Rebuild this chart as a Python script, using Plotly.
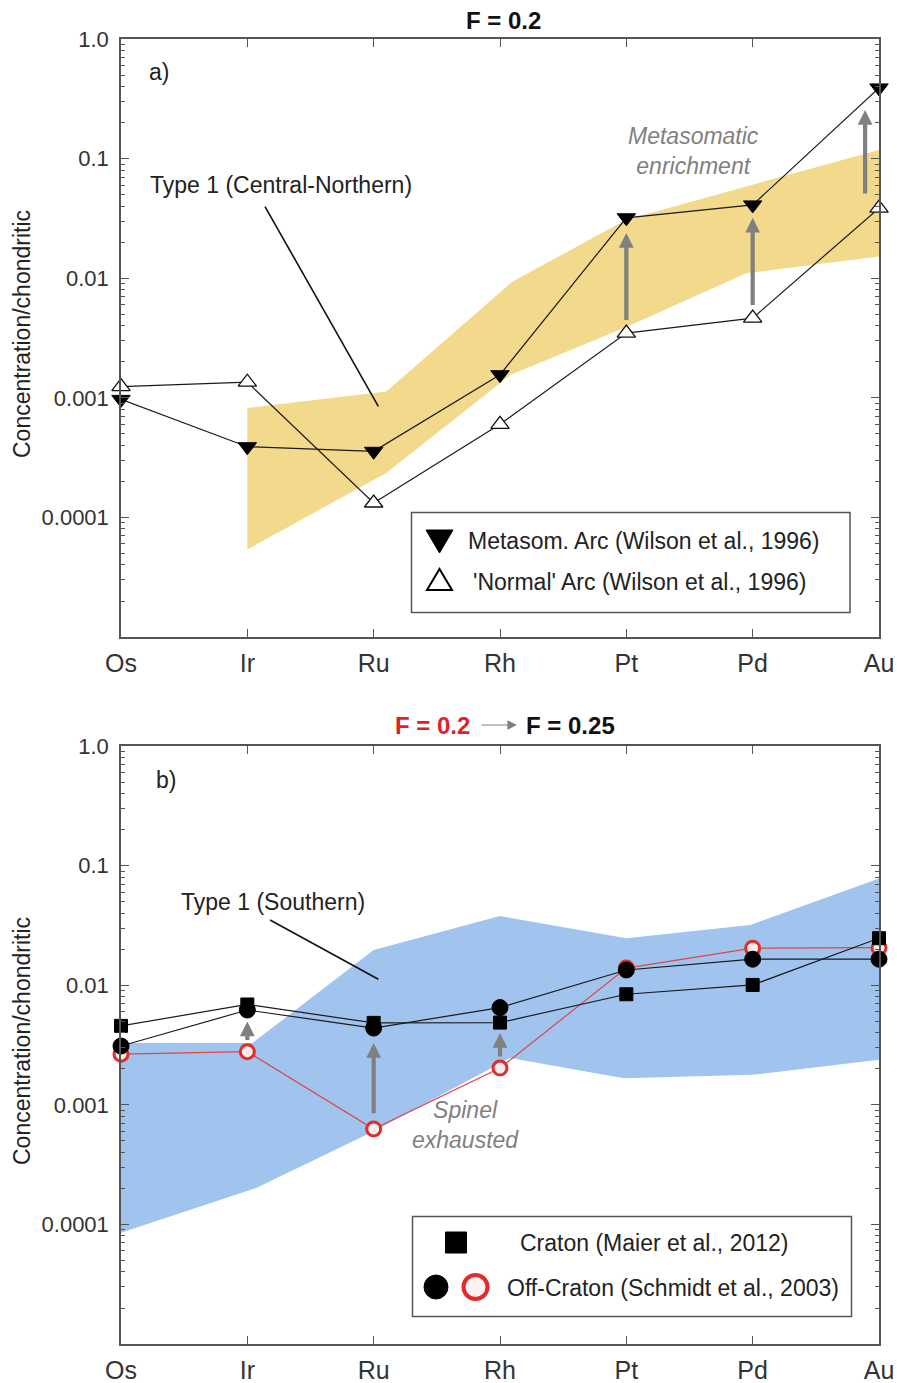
import math
import plotly.graph_objects as go

W, H = 897, 1383

# ---------------- data ----------------
elements = ["Os", "Ir", "Ru", "Rh", "Pt", "Pd", "Au"]
xpos = list(range(len(elements)))

# panel a
metasom_arc = [0.00097, 0.00039, 0.000357, 0.00156, 0.032, 0.041, 0.39]
normal_arc = [0.00124, 0.00135, 0.000132, 0.0006, 0.00348, 0.00464, 0.0385]

band_a_x_upper = [1, 2.1, 3.1, 4.0, 5.05, 6]
band_a_upper = [0.00082, 0.00113, 0.0094, 0.0308, 0.0626, 0.118]
band_a_x_lower = [1, 2.1, 3.08, 4.0, 4.95, 6]
band_a_lower = [5.4e-5, 0.000235, 0.00155, 0.0039, 0.011, 0.0152]

enrich_a_x = [4, 5, 5.89]
enrich_a_from = [0.00435, 0.0058, 0.0497]
enrich_a_to = [0.0239, 0.032, 0.255]

type1_a_x = [1.14, 2.037]
type1_a_y = [0.0397, 0.000848]

# panel b
craton = [0.00457, 0.00690, 0.00484, 0.00487, 0.0084, 0.01005, 0.0247]
off_craton_025 = [0.0031, 0.0062, 0.00438, 0.00650, 0.0134, 0.0165, 0.0165]
off_craton_02 = [0.00265, 0.00278, 0.000628, 0.00203, 0.0139, 0.0204, 0.0206]

band_b_x_upper = [0, 1.04, 2.0, 3.0, 4.0, 4.98, 6]
band_b_upper = [0.00328, 0.00328, 0.0197, 0.0379, 0.0247, 0.0319, 0.078]
band_b_x_lower = [0, 1.07, 2.0, 3.08, 3.98, 5.0, 6]
band_b_lower = [8.5e-5, 0.000202, 0.0006, 0.00246, 0.00167, 0.00178, 0.00238]

enrich_b_x = [1, 2, 3]
enrich_b_from = [0.00338, 0.000826, 0.00246]
enrich_b_to = [0.00497, 0.00328, 0.00398]

type1_b_x = [1.18, 2.037]
type1_b_y = [0.0351, 0.0112]

ytick_vals = [1e-4, 1e-3, 1e-2, 1e-1, 1.0]
ytick_text = ["0.0001", "0.001", "0.01", "0.1", "1.0"]

# ---------------- style ----------------
FONT = "Liberation Sans, Arial, Helvetica, sans-serif"
TXT = "#222222"
AXC = "#555555"
YELLOW = "#F2D98C"
BLUE = "#A0C4ED"
RED = "#E32B2B"
GRAY = "#808080"


def px(x):
    return x / W


def py(y):
    return 1 - y / H


fig = go.Figure()


def band(xu, yu, xl, yl, color, xa, ya):
    fig.add_trace(go.Scatter(
        x=list(xu) + list(reversed(xl)), y=list(yu) + list(reversed(yl)),
        fill="toself", fillcolor=color, mode="lines", line=dict(width=0),
        hoverinfo="skip", showlegend=False, xaxis=xa, yaxis=ya))


def series(y, xa, ya, symbol, size, fill, lcolor, mline, linecolor="#1a1a1a", linew=1.2):
    fig.add_trace(go.Scatter(
        x=xpos, y=y, mode="lines+markers", cliponaxis=False,
        line=dict(color=linecolor, width=linew),
        marker=dict(symbol=symbol, size=size, color=fill,
                    line=dict(color=lcolor, width=mline)),
        showlegend=False, xaxis=xa, yaxis=ya))


# panel a
band(band_a_x_upper, band_a_upper, band_a_x_lower, band_a_lower, YELLOW, "x", "y")
fig.add_trace(go.Scatter(x=type1_a_x, y=type1_a_y, mode="lines",
                         line=dict(color="#111111", width=1.6), showlegend=False,
                         xaxis="x", yaxis="y"))
series(normal_arc, "x", "y", "triangle-up", 16, "white", "#111111", 1.3)
series(metasom_arc, "x", "y", "triangle-down", 16, "black", "black", 1)

# panel b
band(band_b_x_upper, band_b_upper, band_b_x_lower, band_b_lower, BLUE, "x2", "y2")
fig.add_trace(go.Scatter(x=type1_b_x, y=type1_b_y, mode="lines",
                         line=dict(color="#111111", width=1.6), showlegend=False,
                         xaxis="x2", yaxis="y2"))
series(off_craton_02, "x2", "y2", "circle", 14, "#F3EEEE", RED, 3,
       linecolor="#E04545", linew=1.2)
series(craton, "x2", "y2", "square", 13, "black", "black", 1)
series(off_craton_025, "x2", "y2", "circle", 16, "black", "black", 1)

annotations = []

# enrichment arrows
for xs, y0s, y1s, xr, yr in [(enrich_a_x, enrich_a_from, enrich_a_to, "x", "y"),
                             (enrich_b_x, enrich_b_from, enrich_b_to, "x2", "y2")]:
    for xv, y0, y1 in zip(xs, y0s, y1s):
        annotations.append(dict(
            x=xv, y=math.log10(y1), ax=xv, ay=math.log10(y0),
            xref=xr, yref=yr, axref=xr, ayref=yr, text="", showarrow=True,
            arrowhead=2, arrowsize=0.7, arrowwidth=4.2, arrowcolor=GRAY,
            standoff=0, startstandoff=0))


def txt(text, x, y, size=23, color=TXT, xanchor="left", yanchor="middle", **kw):
    annotations.append(dict(text=text, x=px(x), y=py(y), xref="paper", yref="paper",
                            xanchor=xanchor, yanchor=yanchor, showarrow=False,
                            font=dict(family=FONT, size=size, color=color), **kw))


# titles
txt("<b>F = 0.2</b>", 503, 20, size=24, color="#111111", xanchor="center")
txt("<b>F = 0.2</b>", 393, 725, size=24, color="#E41E26", xanchor="left")
txt("<b>F = 0.25</b>", 524, 725, size=24, color="#111111", xanchor="left")
annotations.append(dict(x=px(517), y=py(725), ax=-37, ay=0, xref="paper", yref="paper",
                        text="", showarrow=True, arrowhead=2, arrowsize=1.6,
                        arrowwidth=1.2, arrowcolor=GRAY, standoff=0))

# panel labels and notes
txt("a)", 147, 72)
txt("b)", 154, 780)
txt("Type 1 (Central-Northern)", 148, 185)
txt("Type 1 (Southern)", 179, 902)
txt("<i>Metasomatic<br>enrichment</i>", 693, 151, color="#808080", xanchor="center")
txt("<i>Spinel<br>exhausted</i>", 466, 1125, color="#808080", xanchor="center")

# y titles
txt("Concentration/chondritic", 22, 334, size=23, xanchor="center", textangle=-90)
txt("Concentration/chondritic", 22, 1041, size=23, xanchor="center", textangle=-90)

# legend texts
txt("Metasom. Arc (Wilson et al., 1996)", 466, 541)
txt("'Normal' Arc (Wilson et al., 1996)", 471, 582)
txt("Craton (Maier et al., 2012)", 518, 1243)
txt("Off-Craton (Schmidt et al., 2003)", 505, 1288)

# legend boxes and keys (decoration)
shapes = []
for (x0, y0, x1, y1) in [(411.5, 512.5, 850, 612.5), (412.5, 1216.5, 851.5, 1316.5)]:
    shapes.append(dict(type="rect", xref="paper", yref="paper",
                       x0=px(x0), x1=px(x1), y0=py(y1), y1=py(y0),
                       line=dict(color=AXC, width=1.5), fillcolor="white", layer="below"))
shapes.append(dict(type="path", xref="paper", yref="paper",
                   path=f"M {px(426)},{py(530)} L {px(453)},{py(530)} L {px(439.5)},{py(553)} Z",
                   fillcolor="black", line=dict(color="black", width=1)))
shapes.append(dict(type="path", xref="paper", yref="paper",
                   path=f"M {px(427)},{py(590)} L {px(452)},{py(590)} L {px(439.5)},{py(569)} Z",
                   fillcolor="white", line=dict(color="black", width=2)))
shapes.append(dict(type="rect", xref="paper", yref="paper",
                   x0=px(445.5), x1=px(466.5), y0=py(1253), y1=py(1232),
                   fillcolor="black", line=dict(color="black", width=1)))
shapes.append(dict(type="circle", xref="paper", yref="paper",
                   x0=px(424), x1=px(448), y0=py(1299), y1=py(1275),
                   fillcolor="black", line=dict(color="black", width=1)))
shapes.append(dict(type="circle", xref="paper", yref="paper",
                   x0=px(463.5), x1=px(487.5), y0=py(1299), y1=py(1275),
                   fillcolor="#F7F3F3", line=dict(color=RED, width=4)))

minor_vals = [m * 10 ** e for e in range(-5, 0) for m in range(2, 10)]

xaxis_common = dict(range=[0, 6], tickmode="array", tickvals=xpos, ticktext=elements,
                    ticks="inside", ticklen=8, tickwidth=1.2, tickcolor=AXC,
                    showline=True, linecolor=AXC, linewidth=1.5, mirror="ticks",
                    showgrid=False, zeroline=False, fixedrange=True, automargin=False,
                    ticklabelstandoff=3,
                    tickfont=dict(family=FONT, size=25, color="#333333"))
yaxis_common = dict(type="log", range=[-5, 0], tickmode="array", tickvals=ytick_vals,
                    ticktext=ytick_text, ticks="inside", ticklen=8, tickwidth=1.2,
                    tickcolor=AXC, showline=True, linecolor=AXC, linewidth=1.5,
                    mirror="ticks", showgrid=False, zeroline=False, fixedrange=True,
                    automargin=False, ticklabelstandoff=6,
                    tickfont=dict(family=FONT, size=22, color="#333333"),
                    minor=dict(tickmode="array", tickvals=minor_vals, ticks="inside",
                               ticklen=4, tickcolor=AXC, tickwidth=1, showgrid=False))

fig.update_layout(
    width=W, height=H, margin=dict(l=0, r=0, t=0, b=0, autoexpand=False),
    paper_bgcolor="white", plot_bgcolor="rgba(0,0,0,0)",
    showlegend=False,
    font=dict(family=FONT, color=TXT),
    xaxis=dict(domain=[px(121), px(879)], anchor="y", **xaxis_common),
    yaxis=dict(domain=[py(637), py(39)], anchor="x", **yaxis_common),
    xaxis2=dict(domain=[px(121), px(879)], anchor="y2", **xaxis_common),
    yaxis2=dict(domain=[py(1344), py(746)], anchor="x2", **yaxis_common),
    annotations=annotations, shapes=shapes,
)

fig.write_html("out.html")
